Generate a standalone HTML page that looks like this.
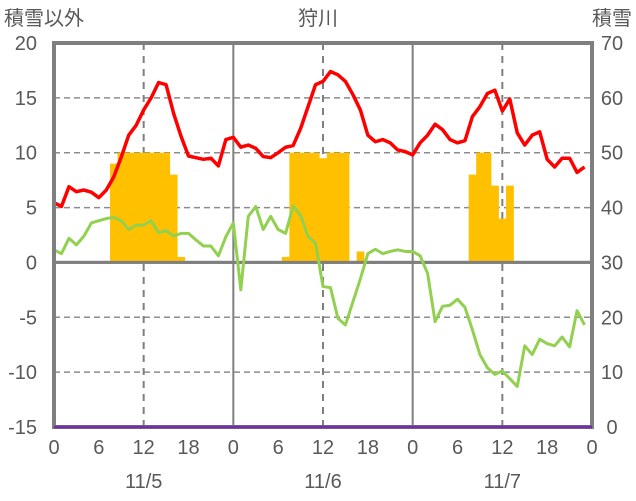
<!DOCTYPE html>
<html><head><meta charset="utf-8"><style>
body{margin:0;background:#fff;}
svg{display:block;font-family:"Liberation Sans","Noto Sans CJK JP",sans-serif;}
</style></head><body>
<svg id="c" width="636" height="501"></svg>
<script>
const hours=[...Array(72).keys()];
const tempVals=[5.45,5.1,6.9,6.45,6.6,6.4,5.9,6.6,7.8,9.6,11.6,12.5,13.9,15.0,16.4,16.2,13.6,11.5,9.7,9.55,9.4,9.5,8.8,11.2,11.4,10.5,10.7,10.4,9.65,9.55,10.0,10.5,10.65,12.2,14.2,16.2,16.5,17.4,17.1,16.5,15.3,13.9,11.6,11.0,11.2,10.9,10.25,10.1,9.8,10.9,11.6,12.6,12.1,11.2,10.9,11.1,13.3,14.2,15.4,15.7,13.8,14.9,11.8,10.7,11.6,11.9,9.4,8.7,9.5,9.5,8.2,8.7];
const windVals=[1.15,0.8,2.2,1.6,2.4,3.6,3.8,4.0,4.1,3.8,3.0,3.4,3.4,3.8,2.7,2.9,2.4,2.65,2.65,2.05,1.5,1.5,0.6,2.35,3.6,-2.5,4.2,5.1,3.0,4.2,3.0,2.65,5.15,4.3,2.35,1.75,-2.2,-2.3,-5.1,-5.7,-3.6,-1.5,0.8,1.2,0.8,1.0,1.15,1.0,1.0,0.6,-1.0,-5.4,-4.0,-3.9,-3.35,-4.1,-6.15,-8.4,-9.6,-10.2,-9.9,-10.6,-11.3,-7.6,-8.4,-7.0,-7.4,-7.6,-6.8,-7.7,-4.4,-5.7];
const snowHours=[8,9,10,11,12,13,14,15,16,17,31,32,33,34,35,36,37,38,39,41,56,57,58,59,60,61];
const snowVals=[48,50,50,50,50,50,50,50,46,31,31,50,50,50,50,49,50,50,50,32,46,50,50,44,38,44];
const leftTicks=[20,15,10,5,0,-5,-10,-15];
const rightTicks=[70,60,50,40,30,20,10,0];
const xTickLabels=["0","6","12","18"];
const dayLabels=["11/5","11/6","11/7"];

const L=54,R=592,T=43,B=427;
const X=h=>L+(R-L)*h/72;
const Y=v=>B-(v+15)/35*(B-T);
const Y2=v=>B-v/70*(B-T);
const svg=document.getElementById('c');
const NS='http://www.w3.org/2000/svg';
function mk(tag,attrs,parent){const e=document.createElementNS(NS,tag);for(const k in attrs)e.setAttribute(k,attrs[k]);(parent||svg).appendChild(e);return e;}
const gray='#7f7f7f', tc='#595959';
leftTicks.forEach(v=>{if(v===20||v===-15)return;const l=mk('line',{x1:L,x2:R,y1:Y(v),y2:Y(v),stroke:v===0?gray:'#8c8c8c','stroke-width':v===0?3:1.5,'stroke-dasharray':v===0?'':'6,4'});

});
for(let h=12;h<72;h+=12){const day=h%24===0;const l=mk('line',{x1:X(h),x2:X(h),y1:T,y2:B,stroke:gray,'stroke-width':2,'stroke-dasharray':day?'':'7,6'});

}
const bw=(R-L)/72;
snowHours.forEach((h,i)=>{const b=mk('rect',{x:X(h)-bw/2,width:bw+0.3,y:Y2(snowVals[i]),height:Y2(30)-Y2(snowVals[i]),fill:'#ffc000'});

});
const z=mk('line',{x1:L,x2:R,y1:Y(0),y2:Y(0),stroke:gray,'stroke-width':3});


function line(vals,color,name,w){const p=mk('polyline',{points:vals.map((v,i)=>X(hours[i])+','+Y(v)).join(' '),fill:'none',stroke:color,'stroke-width':w,'stroke-linejoin':'round'});

}
line(windVals,'#92d050','wind-line',3);
line(tempVals,'#ff0000','temperature-line',3.5);
const f=mk('rect',{x:L,y:T,width:R-L,height:B-T,fill:'none',stroke:gray,'stroke-width':4});


const pl=mk('line',{x1:L,x2:R,y1:B,y2:B,stroke:'#7030a0','stroke-width':3});


leftTicks.forEach(v=>{const t=mk('text',{x:37,y:Y(v)+7,'text-anchor':'end','font-size':20,fill:tc});t.textContent=v;

});
rightTicks.forEach(v=>{const t=mk('text',{x:612,y:Y2(v)+7,'text-anchor':'middle','font-size':20,fill:tc});t.textContent=v;

});
for(let h=0;h<=72;h+=6){const t=mk('text',{x:X(h),y:454,'text-anchor':'middle','font-size':20,fill:tc});t.textContent=xTickLabels[(h/6)%4];

}
dayLabels.forEach((d,i)=>{const t=mk('text',{x:X(12+24*i),y:488,'text-anchor':'middle','font-size':20,fill:tc});t.textContent=d;

});
[['積雪以外',4,'start','left-axis-title'],['狩川',318,'middle','chart-title'],['積雪',632,'end','right-axis-title']].forEach(a=>{const t=mk('text',{x:a[1],y:25,'text-anchor':a[2],'font-size':20,fill:tc});t.textContent=a[0];

});
</script>
</body></html>
